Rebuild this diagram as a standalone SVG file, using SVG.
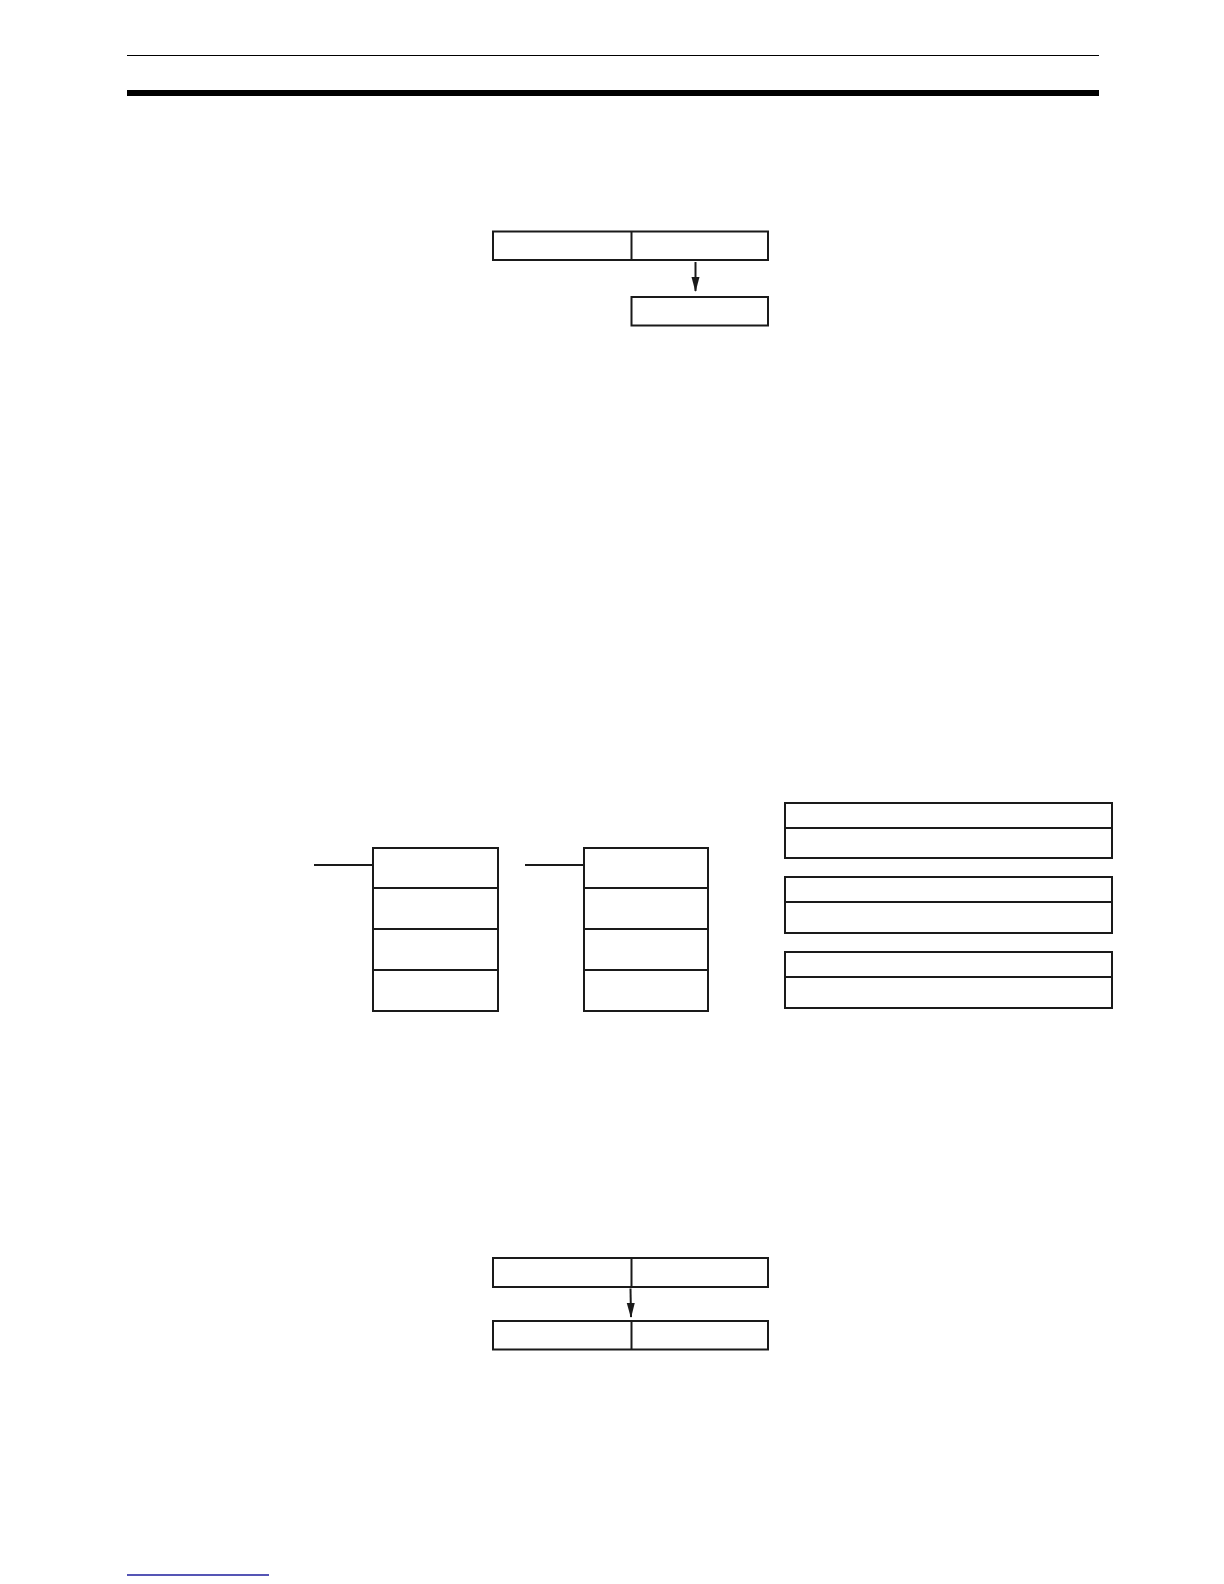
<svg xmlns="http://www.w3.org/2000/svg" width="1224" height="1584" viewBox="0 0 1224 1584">
<style>
.b{fill:#fff;stroke:#1a1a1a;stroke-width:2}
.l{stroke:#1a1a1a;stroke-width:2;fill:none}
</style>
<defs>
<marker id="ah" markerUnits="userSpaceOnUse" markerWidth="15" markerHeight="9" refX="14" refY="4.5" orient="auto" viewBox="0 0 15 9">
<path d="M0,0.5 L15,4.5 L0,8.5 Z" fill="#1a1a1a"/>
</marker>
</defs>
<rect width="1224" height="1584" fill="#fff"/>
<g id="header">
<line x1="127" y1="55.5" x2="1099" y2="55.5" stroke="#000" stroke-width="1.2"/>
<rect x="127" y="90" width="972" height="6" fill="#000"/>
</g>
<g id="top-source">
<rect class="b" x="493" y="231.5" width="275" height="28.5"/>
<line class="l" x1="631.5" y1="231.5" x2="631.5" y2="260"/>
</g>
<g id="top-dest">
<rect class="b" x="631.5" y="297" width="136.5" height="28.5"/>
</g>
<g id="stack1">
<rect class="b" x="373" y="848" width="125" height="163"/>
<line class="l" x1="373" y1="888" x2="498" y2="888"/>
<line class="l" x1="373" y1="929" x2="498" y2="929"/>
<line class="l" x1="373" y1="970" x2="498" y2="970"/>
</g>
<g id="stack2">
<rect class="b" x="584" y="848" width="124" height="163"/>
<line class="l" x1="584" y1="888" x2="708" y2="888"/>
<line class="l" x1="584" y1="929" x2="708" y2="929"/>
<line class="l" x1="584" y1="970" x2="708" y2="970"/>
</g>
<g id="table1">
<rect class="b" x="785" y="803" width="327" height="55"/>
<line class="l" x1="785" y1="828" x2="1112" y2="828"/>
</g>
<g id="table2">
<rect class="b" x="785" y="877" width="327" height="56"/>
<line class="l" x1="785" y1="902" x2="1112" y2="902"/>
</g>
<g id="table3">
<rect class="b" x="785" y="952" width="327" height="56"/>
<line class="l" x1="785" y1="977" x2="1112" y2="977"/>
</g>
<g id="bottom-source">
<rect class="b" x="493" y="1258" width="275" height="29"/>
<line class="l" x1="631.5" y1="1258" x2="631.5" y2="1287"/>
</g>
<g id="bottom-dest">
<rect class="b" x="493" y="1321" width="275" height="28.5"/>
<line class="l" x1="631.5" y1="1321" x2="631.5" y2="1349.5"/>
</g>
<g id="connectors">
<line class="l" x1="695.5" y1="262" x2="695.5" y2="291" stroke-width="1.5" marker-end="url(#ah)"/>
<line class="l" x1="314" y1="865" x2="373" y2="865"/>
<line class="l" x1="525" y1="865" x2="584" y2="865"/>
<line class="l" x1="630.5" y1="1288.5" x2="631" y2="1317" stroke-width="1.5" marker-end="url(#ah)"/>
</g>
<g id="footer">
<line x1="127" y1="1575" x2="269" y2="1575" stroke="#1c1c9c" stroke-width="1.5"/>
</g>
</svg>
